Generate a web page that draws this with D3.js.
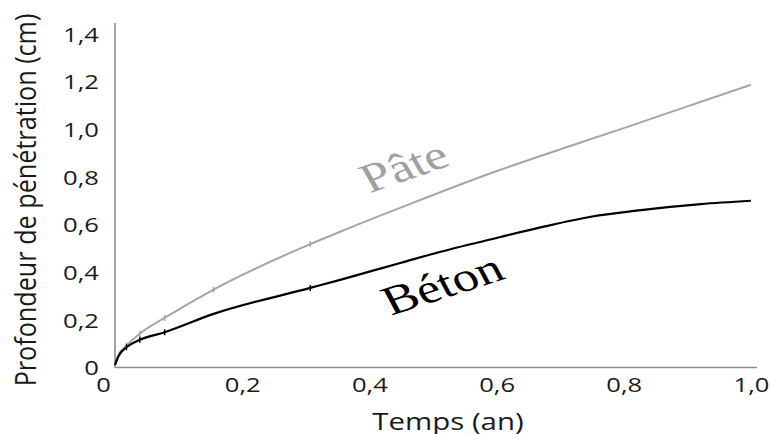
<!DOCTYPE html>
<html><head><meta charset="utf-8">
<script src="https://cdn.jsdelivr.net/npm/d3@7"></script>
<style>html,body{margin:0;padding:0;background:#fff;}svg{display:block;}</style>
</head><body>
<svg id="c" width="771" height="434"></svg>
<script>
// ---- data ----
const pateT = [0, 0.005, 0.018, 0.039, 0.078, 0.155, 0.307, 0.354, 0.45, 0.606, 0.669, 0.8, 0.9, 1.0];
const pateV = [0.01, 0.05, 0.092, 0.142, 0.208, 0.327, 0.518, 0.570, 0.672, 0.830, 0.888, 1.005, 1.096, 1.187];
const betonT = [0, 0.005, 0.018, 0.039, 0.078, 0.155, 0.307, 0.354, 0.45, 0.512, 0.606, 0.669, 0.748, 0.827, 0.921, 1.0];
const betonV = [0.01, 0.045, 0.085, 0.116, 0.148, 0.225, 0.334, 0.368, 0.44, 0.486, 0.548, 0.588, 0.633, 0.661, 0.686, 0.70];
const pateMeasT = [0.018, 0.039, 0.078, 0.155, 0.307];
const pateMeasV = [0.092, 0.142, 0.208, 0.327, 0.518];
const betonMeasT = [0.018, 0.039, 0.078, 0.307];
const betonMeasV = [0.085, 0.116, 0.148, 0.334];
const xTicks = [0, 0.2, 0.4, 0.6, 0.8, 1.0];
const xTickLabels = ["0", "0,2", "0,4", "0,6", "0,8", "1,0"];
const yTicks = [0, 0.2, 0.4, 0.6, 0.8, 1.0, 1.2, 1.4];
const yTickLabels = ["0", "0,2", "0,4", "0,6", "0,8", "1,0", "1,2", "1,4"];
const seriesNames = ["Pâte", "Béton"];

const svg = d3.select("#c");
const SX = 1.28; // horizontal stretch of the original picture
const x = d3.scaleLinear().domain([0, 1]).range([115, 751]);
const y = d3.scaleLinear().domain([0, 1.4]).range([367.5, 34]);
const font = "'Open Sans', sans-serif";

// axes
const xAxis = d3.axisBottom(x).tickValues(xTicks).tickFormat((d,i)=>xTickLabels[i]).tickSize(0).tickPadding(0);
const gx = svg.append("g").attr("transform", `translate(0,${y(0)})`).call(xAxis);
gx.select(".domain").attr("stroke", "#8c8c8c").attr("stroke-width", 1.6).attr("d", `M${x(0)},0H757`);
gx.selectAll(".tick text").attr("font-family", font).attr("font-size", 20).attr("fill", "#1a1a1a")
  .attr("y", 10).attr("dy", "0.71em")
  .attr("transform", (d,i) => `translate(${i===0 ? -12 : 0},0) scale(${SX},1)`);

const yAxis = d3.axisLeft(y).tickValues(yTicks).tickFormat((d,i)=>yTickLabels[i]).tickSize(0).tickPadding(0);
const gy = svg.append("g").attr("transform", `translate(${x(0)},0)`).call(yAxis);
gy.select(".domain").attr("stroke", "#8c8c8c").attr("stroke-width", 1.6).attr("d", `M0,${y(0)}V23`);
gy.selectAll(".tick text").attr("font-family", font).attr("font-size", 20).attr("fill", "#1a1a1a")
  .attr("x", 0).attr("dy", "0.36em")
  .attr("transform", `translate(-16,0) scale(${SX},1)`);

// axis titles
svg.append("text").attr("font-family", font).attr("font-size", 23).attr("fill", "#1a1a1a")
  .attr("text-anchor", "middle")
  .attr("transform", `translate(448,430) scale(${SX},1)`).text("Temps (an)");
svg.append("text").attr("font-family", font).attr("font-size", 24).attr("fill", "#1a1a1a")
  .attr("text-anchor", "middle")
  .attr("transform", `translate(36,200) scale(1.2,1.05) rotate(-90)`).text("Profondeur de pénétration (cm)");

// lines
const line = d3.line().x(d=>x(d[0])).y(d=>y(d[1])).curve(d3.curveMonotoneX);
const pateData = pateT.map((t,i)=>[t, pateV[i]]);
const betonData = betonT.map((t,i)=>[t, betonV[i]]);
svg.append("path").datum(pateData).attr("d", line).attr("fill", "none").attr("stroke", "#a6a6a6").attr("stroke-width", 2);
svg.append("path").datum(betonData).attr("d", line).attr("fill", "none").attr("stroke", "#000").attr("stroke-width", 2.2);

// small measurement ticks
svg.append("g").selectAll("line").data(pateMeasT.map((t,i)=>[t,pateMeasV[i]])).join("line")
  .attr("x1", d=>x(d[0])).attr("x2", d=>x(d[0])).attr("y1", d=>y(d[1])-3).attr("y2", d=>y(d[1])+3)
  .attr("stroke", "#a6a6a6").attr("stroke-width", 1.5);
svg.append("g").selectAll("line").data(betonMeasT.map((t,i)=>[t,betonMeasV[i]])).join("line")
  .attr("x1", d=>x(d[0])).attr("x2", d=>x(d[0])).attr("y1", d=>y(d[1])-3).attr("y2", d=>y(d[1])+3)
  .attr("stroke", "#000").attr("stroke-width", 1.5);

// series labels
svg.append("text").attr("font-family", "'Liberation Serif', 'Times New Roman', serif").attr("font-size", 41)
  .attr("fill", "#a0a0a0").attr("text-anchor", "middle")
  .attr("transform", `translate(411,179) scale(${SX},1) rotate(-24)`).text(seriesNames[0]);
svg.append("text").attr("font-family", "'Liberation Serif', 'Times New Roman', serif").attr("font-size", 41)
  .attr("fill", "#000").attr("text-anchor", "middle")
  .attr("transform", `translate(449,297) scale(${SX},1) rotate(-22.5)`).text(seriesNames[1]);
</script>
</body></html>
